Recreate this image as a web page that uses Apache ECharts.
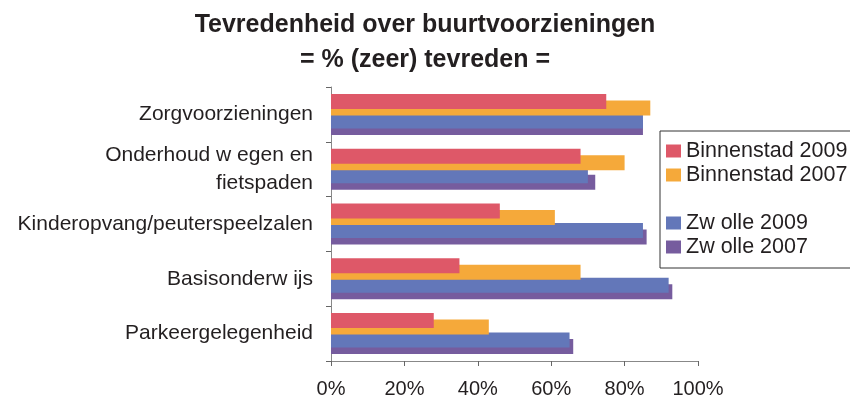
<!DOCTYPE html>
<html>
<head>
<meta charset="utf-8">
<script src="https://cdn.jsdelivr.net/npm/echarts@6/dist/echarts.min.js"></script>
<style>
html,body{margin:0;padding:0;background:#fff;}
#chart{width:850px;height:401px;}
</style>
</head>
<body>
<div id="chart"></div>
<script>
// categorieen (van boven naar beneden)
const categories = ['Zorgvoorzieningen', 'Onderhoud w egen en\nfietspaden', 'Kinderopvang/peuterspeelzalen', 'Basisonderw ijs', 'Parkeergelegenheid'];
// % (zeer) tevreden
const binnenstad2009 = [75, 68, 46, 35, 28];
const binnenstad2007 = [87, 80, 61, 68, 43];
const zwolle2009 = [85, 70, 85, 92, 65];
const zwolle2007 = [85, 72, 86, 93, 66];
const xTicks = [0, 20, 40, 60, 80, 100];

const font = 'Liberation Sans';
const ink = '#231f20';

function bar(name, data, color, z) {
	return {
		name: name,
		type: 'bar',
		data: data,
		barWidth: 15,
		barGap: '-56.67%',
		z: z,
		itemStyle: {color: color},
		emphasis: {disabled: true}
	};
}

const option = {
	animation: false,
	backgroundColor: '#fff',
	title: {
		text: 'Tevredenheid over buurtvoorzieningen\n= % (zeer) tevreden =',
		left: 'center',
		top: 3,
		textStyle: {fontFamily: font, fontSize: 25, fontWeight: 'bold', color: ink, lineHeight: 35}
	},
	legend: {
		orient: 'vertical',
		left: 660,
		top: 131,
		icon: 'rect',
		itemWidth: 15,
		itemHeight: 13,
		itemGap: 2,
		padding: [9, 40, 10, 6],
		borderColor: '#333',
		borderWidth: 1,
		data: ['Binnenstad 2009', 'Binnenstad 2007', ' ', 'Zw olle 2009', 'Zw olle 2007'],
		textStyle: {fontFamily: font, fontSize: 21.5, color: ink, lineHeight: 20}
	},
	grid: {left: 331, right: 152, top: 87, bottom: 40},
	xAxis: {
		type: 'value',
		min: xTicks[0],
		max: xTicks[xTicks.length - 1],
		interval: xTicks[1] - xTicks[0],
		splitLine: {show: false},
		axisLine: {show: true, lineStyle: {color: '#888'}},
		axisTick: {show: true, length: 5, lineStyle: {color: '#666'}},
		axisLabel: {formatter: '{value}%', fontFamily: font, fontSize: 20, color: ink, margin: 18}
	},
	yAxis: {
		type: 'category',
		inverse: true,
		data: categories,
		axisLine: {show: true, lineStyle: {color: '#888'}},
		axisTick: {show: true, length: 5, lineStyle: {color: '#666'}},
		axisLabel: {fontFamily: font, fontSize: 21, color: ink, margin: 18, lineHeight: 28}
	},
	series: [
		bar('Binnenstad 2009', binnenstad2009, '#de5868', 6),
		bar('Binnenstad 2007', binnenstad2007, '#f5a93a', 5),
		bar(' ', categories.map(() => '-'), 'rgba(0,0,0,0)', 1),
		bar('Zw olle 2009', zwolle2009, '#6377b9', 4),
		bar('Zw olle 2007', zwolle2007, '#765c9e', 3)
	]
};

const myChart = echarts.init(document.getElementById('chart'));
myChart.setOption(option);
window.addEventListener('resize', function () {
	myChart.resize();
});
</script>
</body>
</html>
